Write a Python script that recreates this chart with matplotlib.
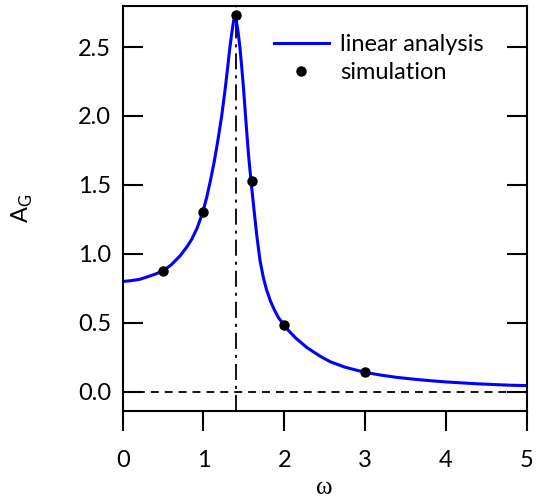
import matplotlib
matplotlib.use("Agg")
import matplotlib.pyplot as plt
from matplotlib.ticker import FormatStrFormatter

# Linear analysis curve
omega_lin = [0.0, 0.1, 0.21, 0.3, 0.4, 0.5, 0.6, 0.71, 0.8, 0.854, 0.92, 0.99,
             1.04, 1.089, 1.13, 1.176, 1.225, 1.265, 1.30, 1.325, 1.349, 1.37, 1.39,
             1.41, 1.431, 1.452, 1.473, 1.494, 1.514, 1.535, 1.56, 1.588, 1.625,
             1.66, 1.70, 1.74, 1.78, 1.83, 1.88, 1.93, 1.99, 2.05, 2.14, 2.28,
             2.45, 2.57, 2.75, 3.0, 3.2, 3.39, 3.6, 3.80, 4.0, 4.22, 4.4, 4.63,
             4.8, 5.0]
ag_lin = [0.80, 0.805, 0.815, 0.832, 0.852, 0.877, 0.92, 0.985, 1.055, 1.105, 1.185, 1.30,
          1.41, 1.54, 1.66, 1.815, 2.00, 2.18, 2.355, 2.49, 2.597, 2.68, 2.735,
          2.68, 2.597, 2.49, 2.355, 2.21, 2.05, 1.885, 1.70, 1.53, 1.32,
          1.13, 0.95, 0.83, 0.74, 0.655, 0.59, 0.535, 0.49, 0.445, 0.39, 0.32,
          0.255, 0.217, 0.178, 0.14, 0.12, 0.104, 0.091, 0.080, 0.071, 0.063, 0.057, 0.051,
          0.047, 0.044]

# Simulation points
omega_sim = [0.5, 1.0, 1.4, 1.6, 2.0, 3.0]
ag_sim = [0.877, 1.30, 2.735, 1.525, 0.486, 0.14]

omega_res = 1.4
x_ticks = [0, 1, 2, 3, 4, 5]
y_ticks = [0.0, 0.5, 1.0, 1.5, 2.0, 2.5]

plt.rcParams['font.family'] = ['Lato', 'DejaVu Sans']

fig = plt.figure(figsize=(5.40, 5.03), dpi=100)
ax = fig.add_axes([0.2272, 0.1829, 0.9754 - 0.2272, 0.9887 - 0.1829])

ax.axhline(0.0, color='black', lw=1.3, dashes=(4.4, 3.3), zorder=1)
ax.axvline(omega_res, color='black', lw=1.3, dashes=(8.9, 3.3, 1.7, 3.3), zorder=1)

ax.plot(omega_lin, ag_lin, color='#0000ff', lw=2.2, label='linear analysis', zorder=2,
        solid_joinstyle='round')
ax.plot(omega_sim, ag_sim, 'o', color='black', ms=6.5, label='simulation', zorder=3)

ax.set_xlim(0, 5)
ax.set_ylim(-0.14, 2.8)
ax.set_xticks(x_ticks)
ax.set_yticks(y_ticks)
ax.yaxis.set_major_formatter(FormatStrFormatter('%.1f'))

for s in ax.spines.values():
    s.set_linewidth(1.5)

ax.tick_params(axis='x', direction='out', length=14.4, width=1.5, labelsize=17, pad=14,
               top=False)
ax.tick_params(axis='y', direction='in', length=14.4, width=1.5, labelsize=17, pad=8.5,
               right=True)

ax.set_xlabel('ω', family='Liberation Serif', fontsize=18, labelpad=4)
ax.set_ylabel(r'A$_{\mathregular{G}}$', fontsize=17)
ax.yaxis.set_label_coords(-0.217, 0.5)

leg = ax.legend(loc='upper left', bbox_to_anchor=(0.375, 0.93), frameon=False,
                fontsize=17, handlelength=2.3, handletextpad=0.5, borderpad=0,
                borderaxespad=0, labelspacing=0.3)

fig.savefig('out.png', dpi=100)
